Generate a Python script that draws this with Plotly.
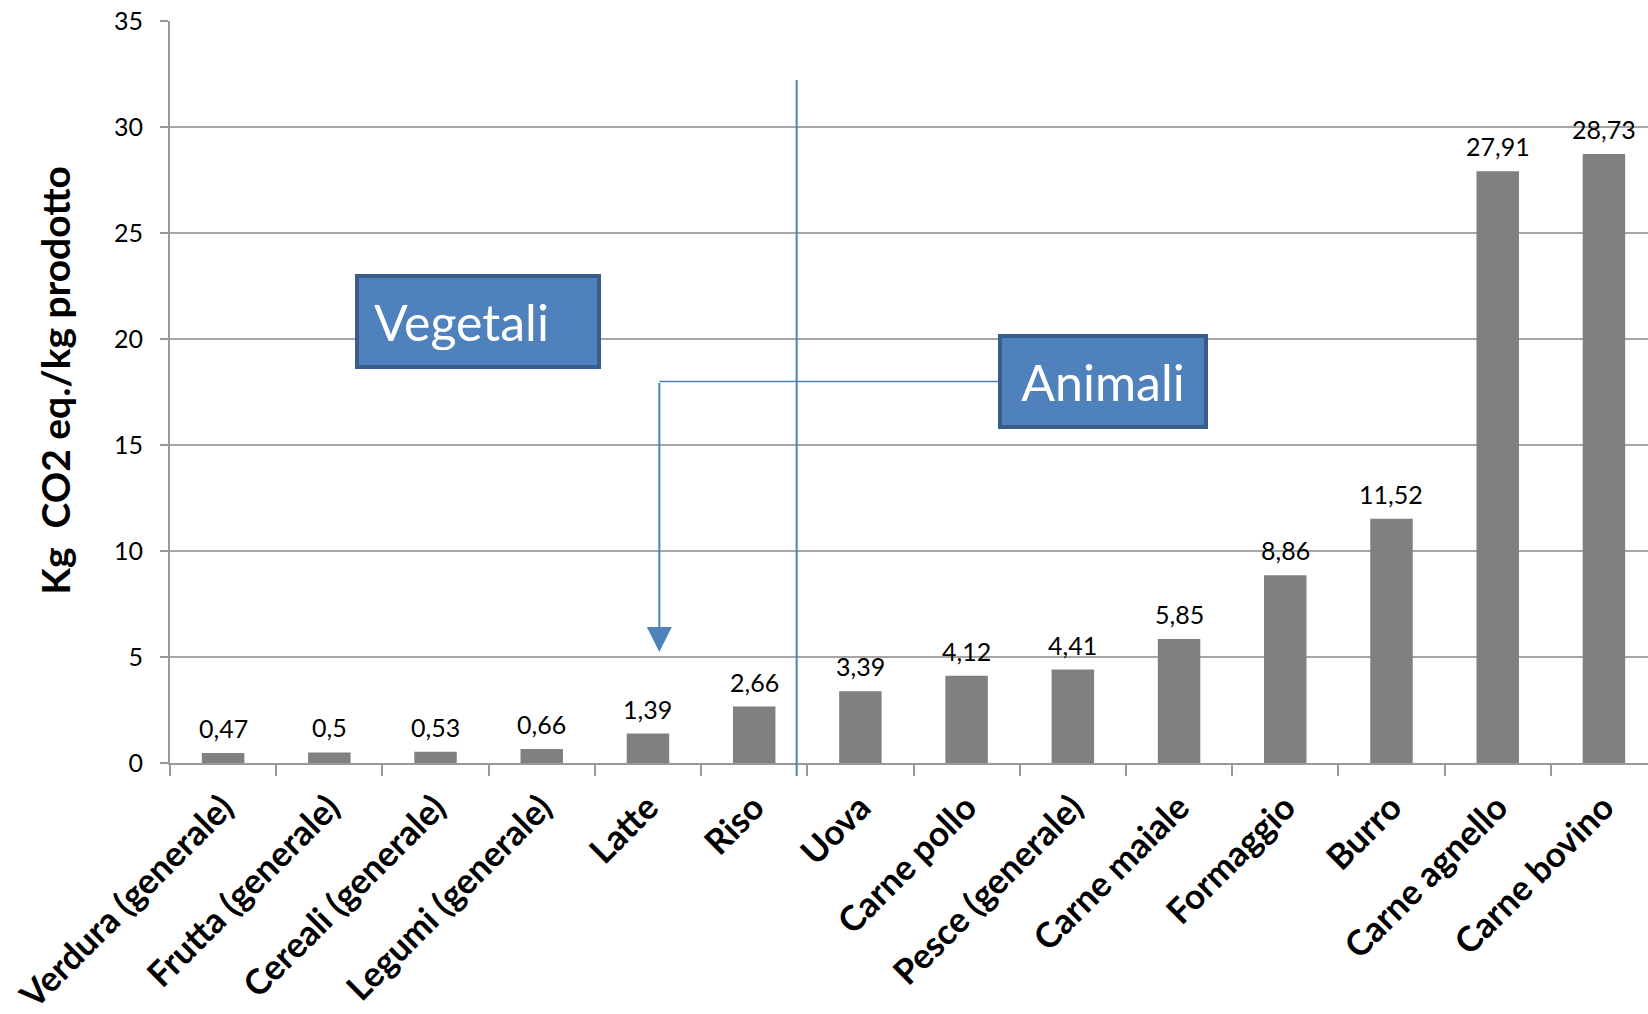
import plotly.graph_objects as go

# Emissioni per categoria di alimento (kg CO2 eq. per kg di prodotto)
categorie = [
    "Verdura (generale)", "Frutta (generale)", "Cereali (generale)", "Legumi (generale)",
    "Latte", "Riso", "Uova", "Carne pollo", "Pesce (generale)", "Carne maiale",
    "Formaggio", "Burro", "Carne agnello", "Carne bovino",
]
valori = [0.47, 0.5, 0.53, 0.66, 1.39, 2.66, 3.39, 4.12, 4.41, 5.85, 8.86, 11.52, 27.91, 28.73]
y_ticks = [0, 5, 10, 15, 20, 25, 30, 35]

FONT = "Lato"
BLU = "#4F81BD"
BLU_SCURO = "#385D8A"
GRIGIO_ASSE = "#999999"

etichette = [f"{v:g}".replace(".", ",") for v in valori]

fig = go.Figure(
    go.Bar(
        x=categorie,
        y=valori,
        marker=dict(color="#808080", line=dict(width=0)),
        width=0.4,
        hoverinfo="x+y",
    )
)

# Etichette dei valori sopra le barre
for c, v, t in zip(categorie, valori, etichette):
    fig.add_annotation(
        x=c, y=v, text=t, showarrow=False, yanchor="bottom", yshift=8,
        font=dict(family=FONT, size=25, color="black"),
    )

# Titolo dell'asse verticale
fig.add_annotation(
    x=-0.078, y=0.516, xref="paper", yref="paper", text="Kg  CO2 eq./kg prodotto",
    textangle=-90, showarrow=False, xanchor="center", yanchor="middle",
    font=dict(family=FONT, size=39, color="black", weight="bold"),
)

# Linea di separazione tra vegetali e animali
fig.add_shape(
    type="line", xref="x", yref="paper",
    x0=5.40, x1=5.40, y0=-0.0175, y1=0.9205,
    line=dict(color=BLU, width=2), layer="above",
)

# Connettore dal riquadro "Animali" verso la colonna del latte
fig.add_shape(
    type="line", xref="x", yref="y",
    x0=4.107, x1=7.30, y0=18.0, y1=18.0,
    line=dict(color=BLU, width=1.5), layer="above",
)
fig.add_annotation(
    x=4.107, y=5.24, ax=4.107, ay=18.0, xref="x", yref="y", axref="x", ayref="y",
    text="", showarrow=True, arrowhead=2, arrowsize=2.5, arrowwidth=2, arrowcolor=BLU,
)

# Riquadri di categoria
fig.add_annotation(
    x=2.40, y=20.83, xref="x", yref="y", text="Vegetali", showarrow=False,
    font=dict(family=FONT, size=50, color="white"),
    bgcolor=BLU, bordercolor=BLU_SCURO, borderwidth=4, borderpad=15,
    width=208, height=57, align="left",
)
fig.add_annotation(
    x=8.28, y=18.0, xref="x", yref="y", text="Animali", showarrow=False,
    font=dict(family=FONT, size=50, color="white"),
    bgcolor=BLU, bordercolor=BLU_SCURO, borderwidth=4, borderpad=0,
    width=202, height=87, align="center",
)

fig.update_layout(
    width=1648, height=1014,
    margin=dict(l=170, r=0, t=21, b=251),
    plot_bgcolor="white", paper_bgcolor="white",
    showlegend=False,
    bargap=0.6,
    font=dict(family=FONT, color="black"),
    xaxis=dict(
        range=[-0.5, 13.415],
        tickangle=-45,
        tickfont=dict(family=FONT, size=35, color="black", weight="bold"),
        showline=True, linecolor=GRIGIO_ASSE, linewidth=2,
        ticks="outside", tickson="boundaries", ticklen=11, tickcolor=GRIGIO_ASSE, tickwidth=2,
        ticklabelstandoff=8,
        showgrid=False, automargin=False,
    ),
    yaxis=dict(
        range=[0, 35], tickvals=y_ticks,
        tickfont=dict(family=FONT, size=25, color="black"),
        showline=True, linecolor=GRIGIO_ASSE, linewidth=2,
        ticks="outside", ticklen=8, tickcolor=GRIGIO_ASSE, tickwidth=2,
        showgrid=True, gridcolor="#a6a6a6", gridwidth=2,
        zeroline=False, automargin=False,
        ticklabelstandoff=12,
    ),
)

fig.write_html("out.html")
